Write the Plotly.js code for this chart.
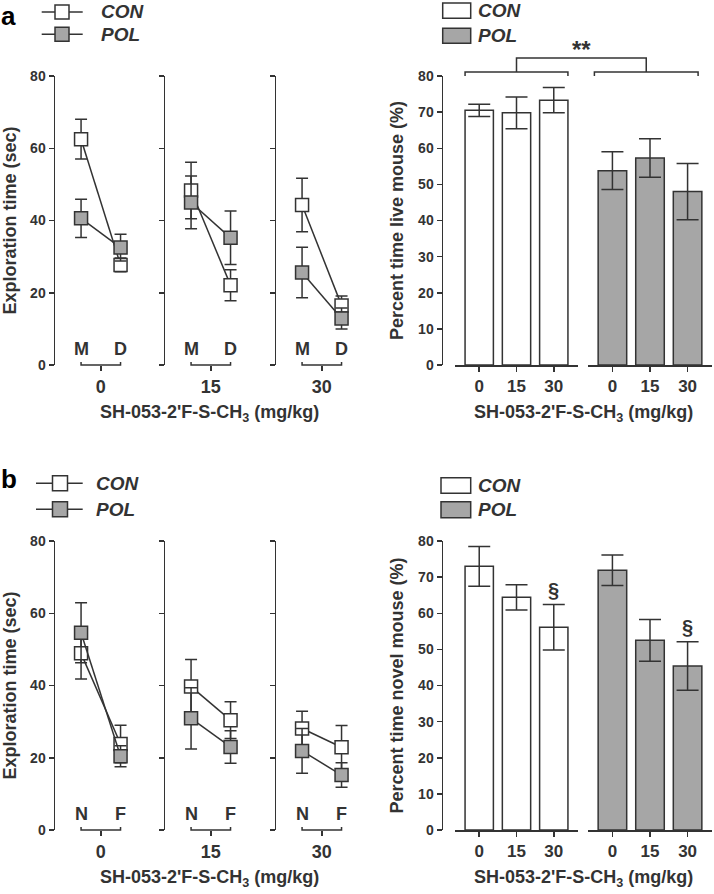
<!DOCTYPE html>
<html><head><meta charset="utf-8">
<script src="https://cdn.plot.ly/plotly-3.0.1.min.js"></script>
<style>html,body{margin:0;padding:0;background:#fff}</style>
</head><body><div id="chart" style="width:714px;height:894px"></div>
<script>
// ---------------- DATA ----------------
const doses = ['0', '15', '30'];
const groups = ['CON', 'POL'];
const phasesA = ['M', 'D'];
const phasesB = ['N', 'F'];
const xTitle = "SH-053-2'F-S-CH<sub>3</sub> (mg/kg)";

// Panel a – exploration time (sec), mean and SEM per dose
const conA_M = [62.5, 48.3, 44.3];
const conA_M_se = [5.5, 7.8, 7.4];
const conA_D = [27.7, 22.1, 16.5];
const conA_D_se = [1.9, 4.3, 2.6];
const polA_M = [40.6, 45.0, 25.6];
const polA_M_se = [5.3, 7.3, 7.0];
const polA_D = [32.5, 35.2, 12.9];
const polA_D_se = [3.7, 7.4, 2.9];

// Panel a – percent time live mouse (%)
const conLive = [70.5, 69.8, 73.3];
const conLive_se = [1.7, 4.4, 3.5];
const polLive = [53.8, 57.3, 48.0];
const polLive_se = [5.2, 5.3, 7.8];
const liveSig = '**';

// Panel b – exploration time (sec)
const conB_N = [48.9, 39.7, 28.1];
const conB_N_se = [7.1, 7.5, 4.8];
const conB_F = [23.8, 30.4, 22.9];
const conB_F_se = [5.2, 5.1, 6.0];
const polB_N = [54.6, 30.9, 21.9];
const polB_N_se = [8.3, 8.5, 6.2];
const polB_F = [20.4, 23.0, 15.2];
const polB_F_se = [2.9, 4.5, 3.4];

// Panel b – percent time novel mouse (%)
const conNovel = [73.0, 64.4, 56.1];
const conNovel_se = [5.5, 3.5, 6.3];
const polNovel = [71.9, 52.5, 45.4];
const polNovel_se = [4.2, 5.8, 6.7];
const novelSigCON = ['', '', '§'];
const novelSigPOL = ['', '', '§'];

// ---------------- GEOMETRY / STYLE ----------------
const W = 714, H = 894;
const fx = p => p / W, fy = p => 1 - p / H;
const INK = '#333333', GRAY = '#a6a6a6';
const FONT = '"Liberation Sans", Arial, Helvetica, sans-serif';
const leftAxX = [55, 165, 276], leftW = 92, leftRange = [-0.66, 1.67];
const yAxRight = 441.5, conDom = [455, 578], polDom = [588, 712], barRange = [-0.65, 2.65];
const barW = 0.76;

function mapX(dom, rng, v) { return fx(dom[0] + (v - rng[0]) / (rng[1] - rng[0]) * (dom[1] - dom[0])); }

const traces = [];
const layout = {
  width: W, height: H, margin: {l: 0, r: 0, t: 0, b: 0},
  paper_bgcolor: '#fff', plot_bgcolor: 'rgba(0,0,0,0)',
  showlegend: false, font: {family: FONT, color: INK, weight: 'bold'},
  shapes: [], annotations: []
};

function ann(o) {
  layout.annotations.push(Object.assign({showarrow: false, xref: 'paper', yref: 'paper',
    xanchor: 'center', yanchor: 'middle',
    font: {family: FONT, size: 18, color: INK, weight: 'bold'}}, o));
}

function yAxisCommon(extra) {
  return Object.assign({
    range: [0, 80], showline: true, linewidth: 1.5, linecolor: INK, ticks: 'outside',
    ticklen: 5, tickwidth: 1.5, tickcolor: INK, showgrid: false, zeroline: false,
    tickfont: {family: FONT, size: 14, color: INK, weight: 'bold'}, fixedrange: true
  }, extra);
}

function buildPanel(opt) {
  const top = opt.top, bottom = opt.bottom, i0 = opt.i0;
  const yDom = [fy(bottom), fy(top)];
  // left: three exploration-time subplots
  for (let k = 0; k < 3; k++) {
    const n = i0 + k, xa = 'x' + (n === 1 ? '' : n), ya = 'y' + (n === 1 ? '' : n);
    const dom = [leftAxX[k], leftAxX[k] + leftW];
    layout['xaxis' + (n === 1 ? '' : n)] = {
      domain: [fx(dom[0]), fx(dom[1])], range: leftRange, anchor: ya,
      showline: false, zeroline: false, showgrid: false,
      tickvals: [0.5], ticktext: [doses[k]], ticks: 'outside', ticklen: 5, tickwidth: 1.5, tickcolor: INK,
      tickfont: {family: FONT, size: 18, color: INK, weight: 'bold'}, fixedrange: true
    };
    const yax = yAxisCommon({domain: yDom, anchor: xa, tickvals: [0, 20, 40, 60, 80], showticklabels: k === 0});
    if (k === 0) yax.title = {text: 'Exploration time (sec)', standoff: 9,
      font: {family: FONT, size: 18, color: INK, weight: 'bold'}};
    layout['yaxis' + (n === 1 ? '' : n)] = yax;

    const series = [
      {name: groups[0], m: opt.conM[k], d: opt.conD[k], ms: opt.conMse[k], ds: opt.conDse[k], fill: '#ffffff'},
      {name: groups[1], m: opt.polM[k], d: opt.polD[k], ms: opt.polMse[k], ds: opt.polDse[k], fill: GRAY}
    ];
    series.forEach(s => traces.push({
      type: 'scatter', mode: 'lines+markers', name: s.name, xaxis: xa, yaxis: ya,
      x: [0, 1], y: [s.m, s.d],
      line: {color: INK, width: 1.5},
      marker: {symbol: 'square', size: 13, color: s.fill, line: {color: INK, width: 1.5}},
      error_y: {type: 'data', array: [s.ms, s.ds], color: INK, thickness: 1.5, width: 6},
      cliponaxis: false, hoverinfo: 'skip'
    }));
    // phase letters
    opt.phases.forEach((p, j) => ann({x: j, y: 4.5, xref: xa, yref: ya, text: p}));
    // bracket under the two phases
    const x0 = mapX(dom, leftRange, 0), x1 = mapX(dom, leftRange, 1);
    const yb = fy(bottom), ye = fy(bottom - 3);
    layout.shapes.push({type: 'path', xref: 'paper', yref: 'paper',
      path: `M${x0},${ye} L${x0},${yb} L${x1},${yb} L${x1},${ye}`, line: {color: INK, width: 1.5}});
  }
  ann({x: fx(209), y: fy(bottom + 48), text: xTitle});

  // right: bar chart
  const nC = i0 + 3, nP = i0 + 4;
  const yName = 'y' + nC;
  layout['xaxis' + nC] = {domain: [fx(conDom[0]), fx(conDom[1])], range: barRange, anchor: yName,
    showline: true, linewidth: 1.5, linecolor: INK, zeroline: false, showgrid: false,
    tickvals: [0, 1, 2], ticktext: doses, ticks: 'outside', ticklen: 5, tickwidth: 1.5, tickcolor: INK,
    tickfont: {family: FONT, size: 17, color: INK, weight: 'bold'}, fixedrange: true};
  layout['xaxis' + nP] = Object.assign({}, layout['xaxis' + nC], {domain: [fx(polDom[0]), fx(polDom[1])]});
  layout['yaxis' + nC] = yAxisCommon({domain: yDom, anchor: 'free', position: fx(yAxRight),
    tickvals: [0, 10, 20, 30, 40, 50, 60, 70, 80],
    title: {text: opt.yTitleR, standoff: 8, font: {family: FONT, size: 18, color: INK, weight: 'bold'}}});
  [[opt.conBar, opt.conBarSe, '#ffffff', 'x' + nC, groups[0]], [opt.polBar, opt.polBarSe, GRAY, 'x' + nP, groups[1]]]
    .forEach(([v, se, col, xa, nm]) => traces.push({
      type: 'bar', name: nm, x: [0, 1, 2], y: v, xaxis: xa, yaxis: yName, width: barW,
      marker: {color: col, line: {color: INK, width: 1.5}},
      error_y: {type: 'data', array: se, color: INK, thickness: 1.5, width: 11},
      hoverinfo: 'skip'
    }));

  // legends (custom keys)
  const L = opt.legL, R = opt.legR;
  [L.y1, L.y2].forEach((yy, j) => {
    layout.shapes.push({type: 'line', xref: 'paper', yref: 'paper', x0: fx(L.lx0), x1: fx(L.lx1),
      y0: fy(yy), y1: fy(yy), line: {color: INK, width: 1.5}});
    layout.shapes.push({type: 'rect', xref: 'paper', yref: 'paper', x0: fx(L.cx - L.s / 2), x1: fx(L.cx + L.s / 2),
      y0: fy(yy - L.s / 2), y1: fy(yy + L.s / 2), fillcolor: j ? GRAY : '#ffffff', line: {color: INK, width: 1.5}});
    ann({x: fx(L.tx), y: fy(yy), xanchor: 'left', text: groups[j],
      font: {family: FONT, size: 19, color: INK, weight: 'bold', style: 'italic'}});
  });
  [[R.b1, R.b1b], [R.b2, R.b2b]].forEach(([y0, y1], j) => {
    layout.shapes.push({type: 'rect', xref: 'paper', yref: 'paper', x0: fx(R.x0), x1: fx(R.x1),
      y0: fy(y1), y1: fy(y0), fillcolor: j ? GRAY : '#ffffff', line: {color: INK, width: 1.5}});
    ann({x: fx(R.tx), y: fy((y0 + y1) / 2), xanchor: 'left', text: groups[j],
      font: {family: FONT, size: 19, color: INK, weight: 'bold', style: 'italic'}});
  });
  ann({x: fx(opt.label.x), y: fy(opt.label.y), xanchor: 'left', yanchor: 'top', borderpad: 0, text: opt.label.t,
    font: {family: FONT, size: 26, color: '#000', weight: 'bold'}});
  ann({x: (fx(conDom[0]) + fx(polDom[1])) / 2, y: fy(bottom + 48), text: xTitle});
  return {nC, nP};
}

// Panel a
const pa = buildPanel({i0: 1, top: 76, bottom: 365, phases: phasesA,
  conM: conA_M, conMse: conA_M_se, conD: conA_D, conDse: conA_D_se,
  polM: polA_M, polMse: polA_M_se, polD: polA_D, polDse: polA_D_se,
  conBar: conLive, conBarSe: conLive_se, polBar: polLive, polBarSe: polLive_se,
  yTitleR: 'Percent time live mouse (%)',
  legL: {y1: 12, y2: 34.3, lx0: 41.7, lx1: 82.7, cx: 62, s: 14, tx: 99},
  legR: {x0: 442.7, x1: 470.7, b1: 3, b1b: 18.3, b2: 28.3, b2b: 43.3, tx: 476},
  label: {t: 'a', x: 0, y: 0}});

// Panel b
const pb = buildPanel({i0: 6, top: 541, bottom: 830, phases: phasesB,
  conM: conB_N, conMse: conB_N_se, conD: conB_F, conDse: conB_F_se,
  polM: polB_N, polMse: polB_N_se, polD: polB_F, polDse: polB_F_se,
  conBar: conNovel, conBarSe: conNovel_se, polBar: polNovel, polBarSe: polNovel_se,
  yTitleR: 'Percent time novel mouse (%)',
  legL: {y1: 483.3, y2: 509.3, lx0: 36, lx1: 82.7, cx: 60, s: 15, tx: 94},
  legR: {x0: 441, x1: 470.7, b1: 477.7, b1b: 493.3, b2: 501.7, b2b: 517.7, tx: 476},
  label: {t: 'b', x: 0, y: 463}});

// Significance bracket for panel a (CON vs POL)
(function () {
  const top = 76;
  const cL = mapX(conDom, barRange, -barW / 2), cR = mapX(conDom, barRange, 2 + barW / 2);
  const pL = mapX(polDom, barRange, -barW / 2 - 0.1), pR = mapX(polDom, barRange, 2 + barW / 2 - 0.1);
  const cM = mapX(conDom, barRange, 1), pM = (pL + pR) / 2;
  const yh = fy(top - 4), ye = fy(top), yc = fy(top - 18);
  [[cL, cR], [pL, pR]].forEach(([a, b]) => layout.shapes.push({type: 'path', xref: 'paper', yref: 'paper',
    path: `M${a},${ye} L${a},${yh} L${b},${yh} L${b},${ye}`, line: {color: INK, width: 1.5}}));
  layout.shapes.push({type: 'path', xref: 'paper', yref: 'paper',
    path: `M${cM},${yh} L${cM},${yc} L${pM},${yc} L${pM},${yh}`, line: {color: INK, width: 1.5}});
  ann({x: (cM + pM) / 2, y: fy(top - 27), text: liveSig,
    font: {family: FONT, size: 24, color: INK, weight: 'bold'}});
})();

// § marks for panel b bars
[[novelSigCON, conNovel, conNovel_se, 'x' + pb.nC], [novelSigPOL, polNovel, polNovel_se, 'x' + pb.nP]]
  .forEach(([sig, v, se, xa]) => sig.forEach((s, i) => {
    if (s) ann({x: i, y: v[i] + se[i], xref: xa, yref: 'y' + pb.nC, text: s, yanchor: 'bottom', yshift: 2,
      font: {family: FONT, size: 20, color: INK, weight: 'bold'}});
  }));

Plotly.newPlot('chart', traces, layout, {displayModeBar: false, staticPlot: true});
</script></body></html>
